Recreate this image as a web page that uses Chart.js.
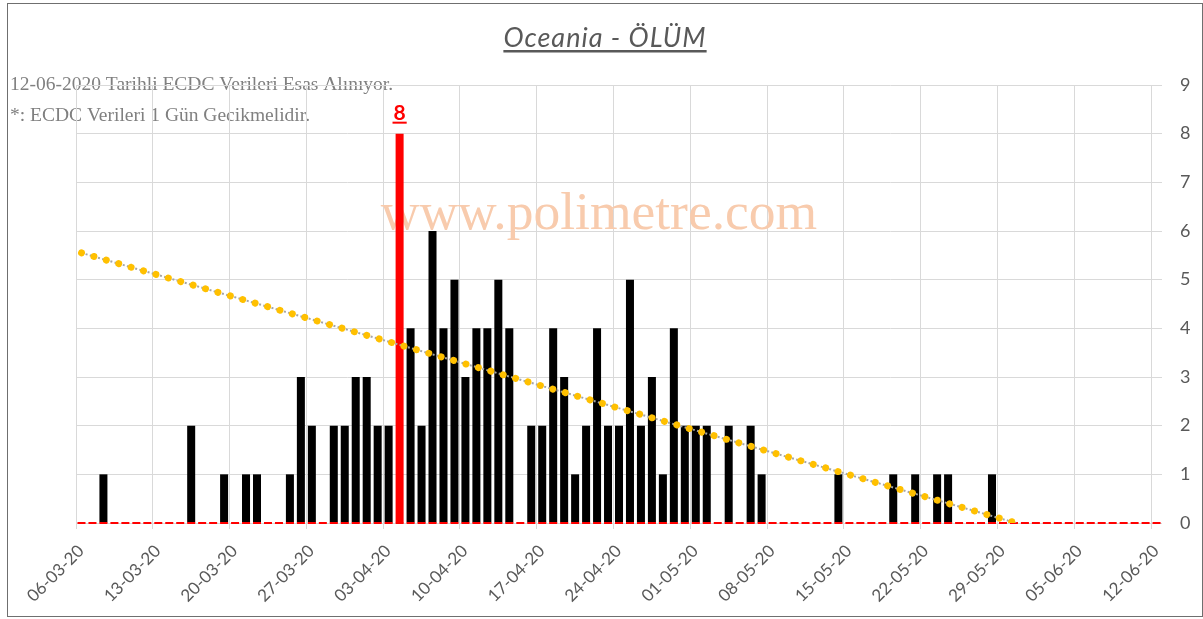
<!DOCTYPE html>
<html>
<head>
<meta charset="utf-8">
<script src="https://cdn.jsdelivr.net/npm/chart.js@4"></script>
<style>
  html, body { margin: 0; padding: 0; background: #fff; }
</style>
</head>
<body>
<canvas id="chart" width="1203" height="619"></canvas>
<script>
// günlük ölüm sayıları, 06-03-20 .. 12-06-20 (99 gün)
const deaths = [
    0, 0, 1, 0, 0, 0, 0, 0, 0, 0,
    2, 0, 0, 1, 0, 1, 1, 0, 0, 1,
    3, 2, 0, 2, 2, 3, 3, 2, 2, 8,
    4, 2, 6, 4, 5, 3, 4, 4, 5, 4,
    0, 2, 2, 4, 3, 1, 2, 4, 2, 2,
    5, 2, 3, 1, 4, 2, 2, 2, 0, 2,
    0, 2, 1, 0, 0, 0, 0, 0, 0, 1,
    0, 0, 0, 0, 1, 0, 1, 0, 1, 1,
    0, 0, 0, 1, 0, 0, 0, 0, 0, 0,
    0, 0, 0, 0, 0, 0, 0, 0, 0
];
const tickLabels = ['06-03-20', '13-03-20', '20-03-20', '27-03-20', '03-04-20', '10-04-20', '17-04-20',
    '24-04-20', '01-05-20', '08-05-20', '15-05-20', '22-05-20', '29-05-20', '05-06-20', '12-06-20'];
const trendDays = [0.5, 85.7];   // doğrusal eğilim, sıfırda kesiliyor
const trendValues = [5.55, 0];
const yTicks = [0, 9];

const peak = Math.max(...deaths);
const barPoints = deaths.map((v, i) => ({ x: i + 0.5, y: v }));
const trendPoints = trendDays.map((d, i) => ({ x: d, y: trendValues[i] }));
const zeroPoints = [{ x: 0, y: 0 }, { x: deaths.length, y: 0 }];

Chart.defaults.font.family = 'Lato';
Chart.defaults.color = '#595959';

const extras = {
    id: 'extras',
    beforeDraw(chart) {
        const c = chart.ctx;
        c.save();
        c.fillStyle = '#fff';
        c.fillRect(0, 0, chart.width, chart.height);
        c.fillStyle = '#808080';
        c.font = '19.5px "Liberation Serif"';
        c.textBaseline = 'alphabetic';
        c.fillText('12-06-2020 Tarihli ECDC Verileri Esas Alınıyor.', 10, 90);
        c.fillText('*: ECDC Verileri 1 Gün Gecikmelidir.', 10, 121);
        c.restore();
    },
    beforeDatasetsDraw(chart) {
        const c = chart.ctx;
        c.save();
        c.font = '53.5px "Liberation Serif"';
        c.fillStyle = '#F8CBAD';
        c.textAlign = 'center';
        c.fillText('www.polimetre.com', 599, 229);
        c.restore();
    },
    afterDraw(chart) {
        const c = chart.ctx;
        c.save();
        // başlık
        c.font = 'italic 27px Lato';
        c.letterSpacing = '1px';
        c.fillStyle = '#595959';
        c.textAlign = 'center';
        const title = 'Oceania - ÖLÜM';
        c.fillText(title, 605, 47);
        const tw = c.measureText(title).width;
        c.fillRect(605 - tw / 2, 50, tw, 2.5);
        c.letterSpacing = '0px';

        // en yüksek değer etiketi
        const meta = chart.getDatasetMeta(3);
        const idx = deaths.indexOf(peak);
        const bar = meta.data[idx];
        c.font = 'bold 21px Lato';
        c.fillStyle = '#FF0000';
        const lbl = String(peak);
        const lw = c.measureText(lbl).width;
        c.fillText(lbl, bar.x, bar.y - 14);
        c.fillRect(bar.x - lw / 2 - 1, bar.y - 12, lw + 2, 2);

        // çerçeve
        c.strokeStyle = '#6f6f6f';
        c.lineWidth = 1;
        c.strokeRect(7.5, 3.5, 1195, 613);
        c.restore();
    }
};

new Chart(document.getElementById('chart'), {
    type: 'bar',
    data: {
        datasets: [
            {
                type: 'line',
                data: trendPoints,
                borderColor: '#FFC000',
                borderWidth: 7,
                borderDash: [0.01, 12.9],
                borderCapStyle: 'round',
                pointRadius: 0,
                order: 0
            },
            {
                type: 'line',
                data: trendPoints,
                borderColor: '#A5A5A5',
                borderWidth: 2,
                borderDash: [2, 2.3],
                pointRadius: 0,
                order: 1
            },
            {
                type: 'line',
                data: zeroPoints,
                borderColor: '#FF0000',
                borderWidth: 2,
                borderDash: [8, 2.97],
                borderDashOffset: 9.47,
                pointRadius: 0,
                clip: 4,
                order: 2
            },
            {
                type: 'bar',
                data: barPoints,
                backgroundColor: ctx => ctx.raw && ctx.raw.y === peak ? '#FF0000' : '#000000',
                barPercentage: 0.73,
                categoryPercentage: 1,
                order: 3
            }
        ]
    },
    options: {
        responsive: false,
        animation: false,
        layout: { padding: { left: 76, top: 85, right: 0, bottom: 0 } },
        plugins: {
            legend: { display: false },
            tooltip: { enabled: false }
        },
        scales: {
            x: {
                type: 'linear',
                min: 0,
                max: deaths.length,
                offset: false,
                afterFit: s => { s.height = 96; },
                border: { display: false },
                grid: { color: '#D9D9D9', tickLength: 6, offset: false },
                ticks: {
                    stepSize: 7,
                    includeBounds: false,
                    autoSkip: false,
                    minRotation: 45,
                    maxRotation: 45,
                    padding: 12,
                    labelOffset: 5,
                    font: { size: 17 },
                    callback: v => tickLabels[v / 7]
                }
            },
            y: {
                position: 'right',
                min: yTicks[0],
                max: yTicks[1],
                afterFit: s => { s.width = 41; },
                border: { display: false },
                grid: { color: '#D9D9D9', drawTicks: false },
                ticks: { stepSize: 1, padding: 18, font: { size: 18 } }
            }
        }
    },
    plugins: [extras]
});
</script>
</body>
</html>
